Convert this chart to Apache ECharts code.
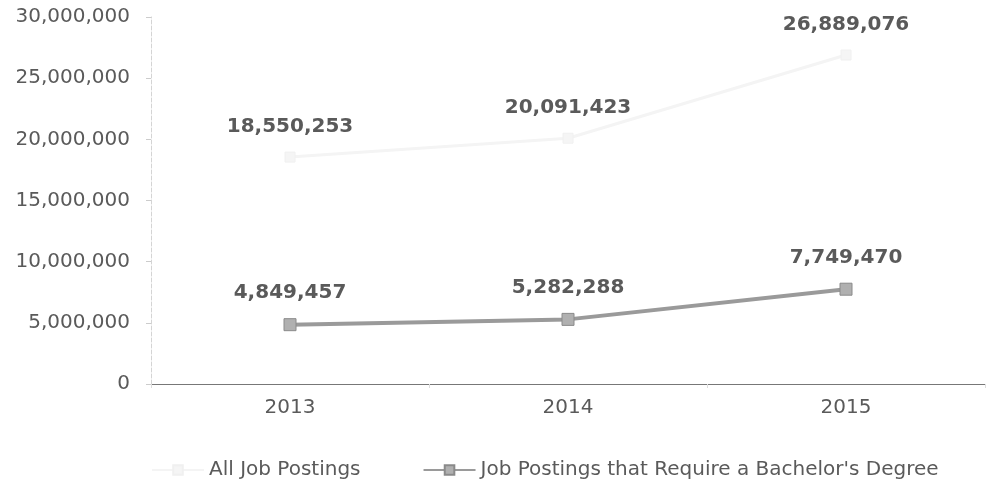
<!DOCTYPE html>
<html>
<head>
<meta charset="utf-8">
<script src="https://cdn.jsdelivr.net/npm/echarts@6/dist/echarts.min.js"></script>
<style>
  html, body { margin: 0; padding: 0; background: #fff; }
  #chart { width: 987px; height: 480px; }
</style>
</head>
<body>
<div id="chart"></div>
<script>
// Job posting counts by year
const years = ['2013', '2014', '2015'];
const allPostings = [18550253, 20091423, 26889076];
const bachelorPostings = [4849457, 5282288, 7749470];
const seriesNames = ['All Job Postings', "Job Postings that Require a Bachelor's Degree"];

const fmt = v => v.toLocaleString('en-US');
const FONT = '"DejaVu Sans", Verdana, sans-serif';

const labelStyle = {
  show: true,
  position: 'top',
  distance: 15,
  fontFamily: FONT,
  fontSize: 20,
  fontWeight: 'bold',
  color: '#5a5a5a',
  formatter: p => fmt(p.value)
};

const chart = echarts.init(document.getElementById('chart'));
chart.setOption({
  animation: false,
  backgroundColor: '#ffffff',
  textStyle: { fontFamily: FONT },
  grid: { left: 151, right: 2, top: 17, bottom: 96, containLabel: false },
  legend: {
    left: 146,
    top: 455,
    itemWidth: 52,
    itemHeight: 12,
    itemGap: 62,
    textStyle: { fontFamily: FONT, fontSize: 20, color: '#5a5a5a' },
    data: seriesNames
  },
  xAxis: {
    type: 'category',
    data: years,
    boundaryGap: true,
    axisLine: { lineStyle: { color: '#777', width: 1 } },
    axisTick: { show: true, length: 4, lineStyle: { color: '#ddd' } },
    axisLabel: { fontFamily: FONT, fontSize: 20, color: '#5a5a5a', margin: 14 }
  },
  yAxis: {
    type: 'value',
    min: 0,
    max: 30000000,
    interval: 5000000,
    axisLine: { show: true, lineStyle: { color: '#d4d4d4', type: 'dashed', width: 1 } },
    axisTick: { show: true, length: 5, lineStyle: { color: '#ccc' } },
    splitLine: { show: false },
    axisLabel: { fontFamily: FONT, fontSize: 20, color: '#5a5a5a', margin: 21, formatter: v => fmt(v) }
  },
  series: [
    {
      name: seriesNames[0],
      type: 'line',
      data: allPostings,
      symbol: 'rect',
      symbolSize: 10,
      color: '#f3f3f3',
      lineStyle: { color: '#f4f4f4', width: 3 },
      itemStyle: { color: '#f5f5f5', borderColor: '#f0f0f0', borderWidth: 1 },
      label: labelStyle
    },
    {
      name: seriesNames[1],
      type: 'line',
      data: bachelorPostings,
      symbol: 'rect',
      symbolSize: 12,
      color: '#9c9c9c',
      lineStyle: { color: '#9a9a9a', width: 4 },
      itemStyle: { color: '#b0b0b0', borderColor: '#8a8a8a', borderWidth: 1 },
      label: labelStyle
    }
  ]
});
</script>
</body>
</html>
